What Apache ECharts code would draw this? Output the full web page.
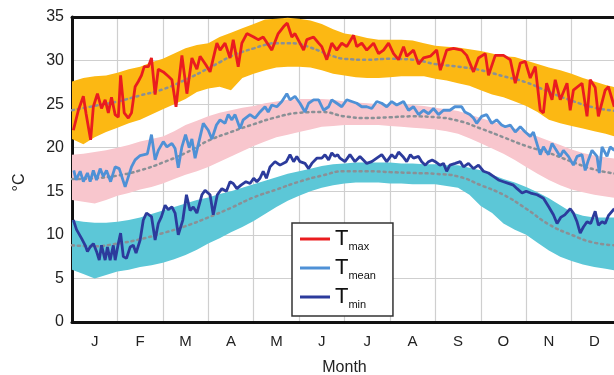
<!DOCTYPE html>
<html><head><meta charset="utf-8">
<script src="https://cdn.jsdelivr.net/npm/echarts@6/dist/echarts.min.js"></script>
<style>html,body{margin:0;padding:0;background:#fff}#c{width:614px;height:375px}</style>
</head><body><div id="c"></div>
<script>
// x positions are in months since 1 Jan (0..12)
const months = ['J','F','M','A','M','J','J','A','S','O','N','D'];
const yTicks = [0,5,10,15,20,25,30,35];

const tmax = [[0.03,22.0],[0.14,24.3],[0.25,25.9],[0.31,23.9],[0.41,20.9],[0.47,24.7],[0.56,26.2],[0.65,24.5],[0.73,25.5],[0.80,24.0],[0.87,25.8],[0.95,23.8],[1.02,23.5],[1.07,28.3],[1.15,24.0],[1.24,23.4],[1.31,24.0],[1.39,27.0],[1.46,27.6],[1.53,28.3],[1.59,29.3],[1.68,29.3],[1.75,30.3],[1.83,26.1],[1.90,29.0],[2.01,28.7],[2.12,28.2],[2.20,27.8],[2.29,24.7],[2.42,30.6],[2.53,26.2],[2.64,30.3],[2.75,29.0],[2.82,30.5],[2.95,29.5],[3.04,28.7],[3.19,32.0],[3.26,31.2],[3.37,32.0],[3.48,30.3],[3.55,32.4],[3.66,29.3],[3.74,32.0],[3.85,33.1],[4.00,32.7],[4.10,32.4],[4.21,32.7],[4.40,31.2],[4.54,33.1],[4.66,33.9],[4.74,34.3],[4.84,32.7],[4.91,33.1],[5.02,32.0],[5.10,31.2],[5.17,32.4],[5.32,32.7],[5.43,32.0],[5.50,31.6],[5.61,30.1],[5.72,32.0],[5.83,31.2],[5.94,32.0],[6.05,31.6],[6.20,32.9],[6.27,31.6],[6.38,32.0],[6.49,31.2],[6.64,32.0],[6.75,30.8],[6.86,31.2],[6.97,32.0],[7.08,30.8],[7.19,30.1],[7.30,31.6],[7.37,30.5],[7.52,31.2],[7.63,29.6],[7.74,30.3],[7.89,30.5],[8.03,31.2],[8.11,28.9],[8.25,31.2],[8.40,31.4],[8.58,31.2],[8.69,30.6],[8.84,28.7],[8.95,30.3],[9.10,30.8],[9.17,28.3],[9.32,30.6],[9.50,30.6],[9.65,30.1],[9.76,27.4],[9.87,29.7],[9.98,29.9],[10.09,28.0],[10.20,29.3],[10.31,24.3],[10.38,24.0],[10.45,27.4],[10.57,25.5],[10.64,27.8],[10.75,25.5],[10.90,27.4],[10.97,24.3],[11.04,26.6],[11.23,27.4],[11.34,23.6],[11.41,27.8],[11.52,26.9],[11.59,23.6],[11.74,26.6],[11.81,27.0],[11.94,24.7]];

const tmean = [[0.04,17.4],[0.09,16.3],[0.18,17.3],[0.25,16.1],[0.34,17.1],[0.40,16.1],[0.47,17.4],[0.54,16.3],[0.62,17.6],[0.69,16.7],[0.76,17.4],[0.85,16.1],[0.95,17.8],[1.04,17.6],[1.17,15.5],[1.31,17.8],[1.39,18.6],[1.50,19.1],[1.66,19.3],[1.75,21.5],[1.83,18.6],[1.90,19.7],[2.01,20.7],[2.09,20.1],[2.20,20.5],[2.27,19.9],[2.34,17.7],[2.42,20.1],[2.50,21.5],[2.58,20.0],[2.64,21.0],[2.71,18.8],[2.89,22.8],[3.00,22.0],[3.08,21.0],[3.18,22.6],[3.26,23.2],[3.37,22.8],[3.44,23.8],[3.52,23.2],[3.59,23.8],[3.70,22.2],[3.77,23.2],[3.92,23.8],[4.03,23.4],[4.14,24.1],[4.25,24.7],[4.32,24.1],[4.40,24.9],[4.51,24.7],[4.62,25.3],[4.73,26.2],[4.80,25.5],[4.91,25.9],[5.02,25.1],[5.13,24.1],[5.21,25.1],[5.32,25.5],[5.43,25.5],[5.54,24.3],[5.65,24.7],[5.72,25.5],[5.83,25.1],[5.94,24.7],[6.05,25.5],[6.16,25.3],[6.27,25.1],[6.38,24.7],[6.49,24.7],[6.60,24.5],[6.71,25.3],[6.82,25.1],[6.93,24.7],[7.04,25.3],[7.15,24.9],[7.30,25.3],[7.41,24.3],[7.52,24.7],[7.63,23.8],[7.74,24.3],[7.85,23.9],[7.96,24.5],[8.07,23.8],[8.18,24.3],[8.32,24.3],[8.43,24.7],[8.58,24.7],[8.65,24.1],[8.76,23.8],[8.84,23.4],[8.91,22.8],[9.02,23.6],[9.13,23.8],[9.24,22.8],[9.35,23.2],[9.46,22.6],[9.54,22.4],[9.65,22.6],[9.76,21.8],[9.87,22.4],[9.98,21.8],[10.09,21.3],[10.16,21.8],[10.31,19.2],[10.38,20.1],[10.49,19.2],[10.57,20.5],[10.64,19.9],[10.75,19.0],[10.82,19.7],[10.93,19.0],[11.04,18.0],[11.12,19.0],[11.23,19.2],[11.30,17.4],[11.37,18.6],[11.45,19.7],[11.56,19.0],[11.61,17.1],[11.67,20.1],[11.78,19.0],[11.85,20.1],[11.94,19.7]];

const tmin = [[0.03,11.7],[0.10,10.6],[0.21,9.6],[0.29,8.8],[0.34,8.1],[0.40,8.6],[0.47,9.0],[0.54,8.1],[0.60,7.1],[0.65,8.8],[0.73,7.1],[0.78,8.6],[0.84,7.1],[0.91,8.8],[0.95,7.1],[1.02,9.0],[1.07,10.2],[1.13,7.5],[1.20,7.3],[1.28,8.6],[1.35,8.8],[1.41,7.9],[1.50,9.4],[1.57,11.7],[1.64,12.5],[1.75,12.1],[1.83,9.4],[1.90,11.3],[1.97,12.1],[2.05,13.4],[2.12,12.9],[2.20,13.2],[2.27,12.5],[2.34,10.0],[2.44,11.7],[2.52,14.6],[2.60,12.8],[2.67,13.2],[2.75,12.5],[2.86,14.6],[2.93,15.1],[3.04,14.6],[3.11,12.3],[3.20,14.6],[3.30,15.3],[3.40,15.0],[3.48,16.1],[3.55,15.9],[3.63,15.3],[3.72,15.7],[3.83,16.1],[3.92,15.9],[4.00,16.5],[4.07,16.1],[4.14,16.5],[4.21,17.3],[4.28,16.5],[4.36,17.8],[4.47,18.4],[4.58,18.0],[4.72,18.4],[4.80,19.2],[4.88,18.4],[4.95,19.0],[5.02,18.4],[5.13,18.2],[5.21,17.6],[5.28,18.2],[5.39,18.8],[5.50,18.8],[5.57,19.2],[5.65,18.6],[5.72,19.4],[5.79,19.0],[5.85,19.2],[5.90,18.8],[6.01,18.4],[6.12,19.2],[6.23,18.4],[6.34,19.0],[6.49,18.2],[6.60,18.4],[6.71,18.8],[6.82,19.2],[6.93,18.4],[7.04,19.2],[7.12,18.8],[7.19,19.5],[7.30,18.9],[7.37,18.4],[7.45,19.2],[7.52,18.8],[7.63,19.0],[7.70,18.4],[7.78,18.0],[7.85,18.4],[7.93,18.6],[8.00,18.4],[8.10,18.0],[8.18,18.2],[8.25,17.3],[8.32,18.0],[8.44,18.2],[8.55,18.4],[8.62,17.8],[8.73,18.2],[8.84,17.6],[8.95,18.0],[9.06,17.3],[9.17,17.1],[9.28,16.7],[9.39,16.3],[9.50,16.1],[9.61,15.9],[9.72,15.7],[9.80,15.3],[9.91,14.8],[10.00,15.0],[10.10,14.8],[10.24,14.6],[10.38,14.2],[10.50,13.2],[10.60,12.3],[10.68,11.3],[10.76,12.0],[10.85,12.3],[10.97,13.0],[11.04,12.5],[11.12,11.5],[11.19,10.2],[11.26,10.9],[11.34,11.5],[11.42,11.3],[11.52,12.7],[11.59,11.1],[11.67,11.5],[11.74,11.3],[11.81,12.2],[11.94,13.0]];

// climatological means (dotted)
const tmaxClim = [[0,24.3],[0.5,24.8],[1,25.3],[1.5,26.0],[2,26.7],[2.5,27.8],[3,29.1],[3.25,29.8],[3.5,30.5],[3.75,31.0],[4,31.4],[4.25,31.8],[4.5,32.0],[4.75,32.0],[5,31.9],[5.25,31.5],[5.5,31.0],[5.75,30.5],[6,30.2],[6.5,30.1],[7,30.2],[7.5,30.1],[8,29.6],[8.5,29.3],[9,28.9],[9.5,28.2],[10,27.5],[10.5,26.4],[11,25.4],[11.5,24.6],[12,24.2]];
const tmeanClim = [[0,16.4],[0.5,16.5],[1,16.8],[1.5,17.4],[2,18.3],[2.5,19.4],[3,20.8],[3.5,21.8],[4,22.7],[4.5,23.5],[5,24.0],[5.5,24.1],[6,23.6],[6.5,23.4],[7,23.5],[7.5,23.6],[8,23.5],[8.5,23.1],[9,22.2],[9.5,21.2],[10,20.2],[10.5,19.4],[11,18.4],[11.5,17.5],[12,17.0]];
const tminClim = [[0,8.8],[0.5,8.7],[1,9.0],[1.5,9.5],[2,10.2],[2.5,11.0],[3,12.0],[3.5,13.1],[4,14.3],[4.5,15.2],[5,16.1],[5.5,16.8],[6,17.3],[6.5,17.3],[7,17.2],[7.5,17.1],[8,17.0],[8.5,16.7],[9,15.7],[9.5,14.6],[10,13.0],[10.5,11.2],[11,10.0],[11.5,9.1],[12,8.8]];

// variability bands: [month, low, high]
const tmaxBand = [[0,21.0,27.6],[0.25,20.4,28.0],[0.5,21.2,28.2],[0.75,21.8,28.3],[1,22.3,28.6],[1.25,22.8,29.0],[1.5,23.2,29.3],[1.75,23.8,29.8],[2,24.4,30.2],[2.25,25.0,30.8],[2.5,25.6,31.4],[2.75,26.4,31.8],[3,26.8,32.0],[3.25,27.0,32.7],[3.5,26.6,33.2],[3.75,28.0,33.7],[4,28.5,34.2],[4.25,28.9,34.7],[4.5,29.2,34.8],[4.75,29.3,34.9],[5,29.3,34.8],[5.25,29.2,34.6],[5.5,28.9,34.2],[5.75,28.5,33.6],[6,28.3,33.1],[6.25,28.1,32.9],[6.5,28.0,32.6],[6.75,28.0,32.4],[7,28.1,32.4],[7.25,28.2,32.4],[7.5,28.2,32.3],[7.75,28.2,32.0],[8,27.9,31.7],[8.25,27.7,31.6],[8.5,27.4,31.5],[8.75,27.1,31.3],[9,26.6,31.1],[9.25,26.1,30.8],[9.5,25.8,30.5],[9.75,25.3,30.4],[10,24.8,30.0],[10.25,24.1,29.6],[10.5,23.2,29.2],[10.75,22.8,28.9],[11,22.5,28.5],[11.25,22.2,28.0],[11.5,21.9,27.6],[11.75,21.6,27.2],[12,21.2,26.9]];
const tmeanBand = [[0,14.0,19.2],[0.25,13.8,19.3],[0.5,13.6,19.5],[0.75,14.0,19.7],[1,14.5,20.0],[1.25,14.8,20.3],[1.5,15.2,20.7],[1.75,15.5,21.0],[2,15.9,21.3],[2.25,16.4,21.9],[2.5,16.9,22.6],[2.75,17.3,23.1],[3,17.8,23.6],[3.25,18.4,24.0],[3.5,19.0,24.3],[3.75,19.6,24.6],[4,20.2,24.8],[4.25,20.7,25.1],[4.5,21.2,25.3],[4.75,21.5,25.5],[5,21.8,25.6],[5.25,22.1,25.6],[5.5,22.4,25.6],[5.75,22.5,25.5],[6,22.6,25.3],[6.25,22.6,25.2],[6.5,22.6,25.1],[6.75,22.6,25.0],[7,22.5,25.0],[7.25,22.4,25.0],[7.5,22.3,24.9],[7.75,22.2,24.8],[8,22.1,24.6],[8.25,21.9,24.4],[8.5,21.6,24.2],[8.75,21.1,23.8],[9,20.5,23.4],[9.25,19.9,23.0],[9.5,19.3,22.6],[9.75,18.6,22.2],[10,17.8,21.8],[10.25,17.0,21.3],[10.5,16.3,20.8],[10.75,15.7,20.3],[11,15.2,19.8],[11.25,14.9,19.4],[11.5,14.6,19.1],[11.75,14.4,18.9],[12,14.2,18.7]];
const tminBand = [[0,6.0,11.7],[0.25,5.5,11.5],[0.5,5.0,11.4],[0.75,5.4,11.4],[1,5.8,11.5],[1.25,6.0,11.7],[1.5,6.3,12.0],[1.75,6.5,12.4],[2,6.8,12.8],[2.25,7.2,13.2],[2.5,7.7,13.6],[2.75,8.3,14.0],[3,9.0,14.3],[3.25,9.6,14.7],[3.5,10.3,15.0],[3.75,10.9,15.4],[4,11.6,15.8],[4.25,12.4,16.2],[4.5,13.2,16.6],[4.75,13.9,17.0],[5,14.5,17.3],[5.25,15.0,17.6],[5.5,15.4,17.9],[5.75,15.7,18.1],[6,15.9,18.2],[6.25,16.0,18.3],[6.5,16.0,18.3],[6.75,16.0,18.3],[7,15.9,18.3],[7.25,15.9,18.2],[7.5,15.8,18.2],[7.75,15.8,18.1],[8,15.8,18.1],[8.25,15.6,18.0],[8.5,15.4,18.0],[8.75,14.6,17.7],[9,13.3,17.4],[9.25,12.5,16.9],[9.5,11.3,16.4],[9.75,10.6,16.0],[10,10.0,15.5],[10.25,9.1,14.9],[10.5,8.2,14.2],[10.75,7.5,13.4],[11,7.0,12.6],[11.25,6.6,12.2],[11.5,6.3,12.0],[11.75,6.1,12.0],[12,5.9,12.0]];

const FONT = 'Liberation Sans, Arial, sans-serif';

function bandSeries(band, color) {
  return {
    type: 'custom', coordinateSystem: 'cartesian2d', xAxisIndex: 0, yAxisIndex: 0,
    silent: true, z: 1, data: band, encode: { x: 0, y: [1, 2] },
    renderItem: function (params, api) {
      if (params.dataIndex !== 0) return null;
      const pts = [];
      for (let i = 0; i < band.length; i++) pts.push(api.coord([band[i][0], band[i][2]]));
      for (let i = band.length - 1; i >= 0; i--) pts.push(api.coord([band[i][0], band[i][1]]));
      return { type: 'polygon', shape: { points: pts }, style: { fill: color } };
    }
  };
}
function climSeries(data) {
  return { type: 'line', data: data, symbol: 'none', silent: true, z: 2, smooth: true,
    lineStyle: { color: '#8a9096', width: 2.5, type: [2, 4], cap: 'round' } };
}
function obsSeries(name, data, color) {
  return { name: name, type: 'line', data: data, symbol: 'none', z: 3,
    lineStyle: { color: color, width: 2.8 }, itemStyle: { color: color } };
}
const edge = { show: true, lineStyle: { color: '#111', width: 3 } };

const chart = echarts.init(document.getElementById('c'), null, { renderer: 'canvas' });
chart.setOption({
  animation: false,
  backgroundColor: '#fff',
  grid: { left: 72, top: 17, width: 545, height: 305, outerBoundsMode: 'none', containLabel: false },
  xAxis: [
    { type: 'value', min: 0, max: 12, interval: 1, position: 'bottom',
      axisLine: Object.assign({ onZero: false }, edge), axisTick: { show: false }, axisLabel: { show: false },
      splitLine: { show: true, lineStyle: { color: '#cfcfcf', width: 1.2 } } },
    { type: 'category', data: months.map((m, i) => i), boundaryGap: true, position: 'bottom',
      axisLine: { show: false }, axisTick: { show: false }, splitLine: { show: false },
      axisLabel: { formatter: (v, i) => months[i], color: '#222', fontSize: 15, fontFamily: FONT, margin: 12 },
      name: 'Month', nameLocation: 'middle', nameGap: 38,
      nameTextStyle: { color: '#222', fontSize: 16, fontFamily: FONT } },
    { type: 'value', min: 0, max: 12, interval: 1, position: 'top',
      axisLine: edge, axisTick: { show: false }, axisLabel: { show: false }, splitLine: { show: false } }
  ],
  yAxis: { type: 'value', min: 0, max: 35, interval: 5,
    axisLine: edge, axisTick: { show: false },
    axisLabel: { color: '#222', fontSize: 16, fontFamily: FONT, margin: 8,
      formatter: v => (yTicks.indexOf(v) >= 0 ? String(v) : '') },
    splitLine: { show: true, lineStyle: { color: '#cfcfcf', width: 1.2 } },
    name: '°C', nameLocation: 'middle', nameGap: 44, nameRotate: 90,
    nameTextStyle: { color: '#222', fontSize: 16, fontFamily: FONT, padding: [0, 26, 0, 0] } },
  legend: {
    data: ['Tmax', 'Tmean', 'Tmin'], orient: 'vertical', left: 292, top: 223,
    backgroundColor: '#fff', borderColor: '#333', borderWidth: 1.5, borderRadius: 0,
    padding: [5, 17, 6, 8], itemWidth: 30, itemHeight: 3, itemGap: 5, icon: 'rect',
    formatter: n => '{t|T}{s|' + n.slice(1) + '}',
    textStyle: { fontFamily: FONT, color: '#111',
      rich: { t: { fontSize: 22, fontFamily: FONT, color: '#111', lineHeight: 26 },
              s: { fontSize: 11, fontFamily: FONT, color: '#111', verticalAlign: 'bottom', padding: [10, 0, 0, 0] } } }
  },
  series: [
    bandSeries(tmaxBand, '#fcb813'),
    bandSeries(tmeanBand, '#f8c6cd'),
    bandSeries(tminBand, '#5cc7d7'),
    climSeries(tmaxClim), climSeries(tmeanClim), climSeries(tminClim),
    obsSeries('Tmax', tmax, '#ea1c1f'),
    obsSeries('Tmean', tmean, '#4f91d6'),
    obsSeries('Tmin', tmin, '#2c3b9c')
  ]
});
</script></body></html>
